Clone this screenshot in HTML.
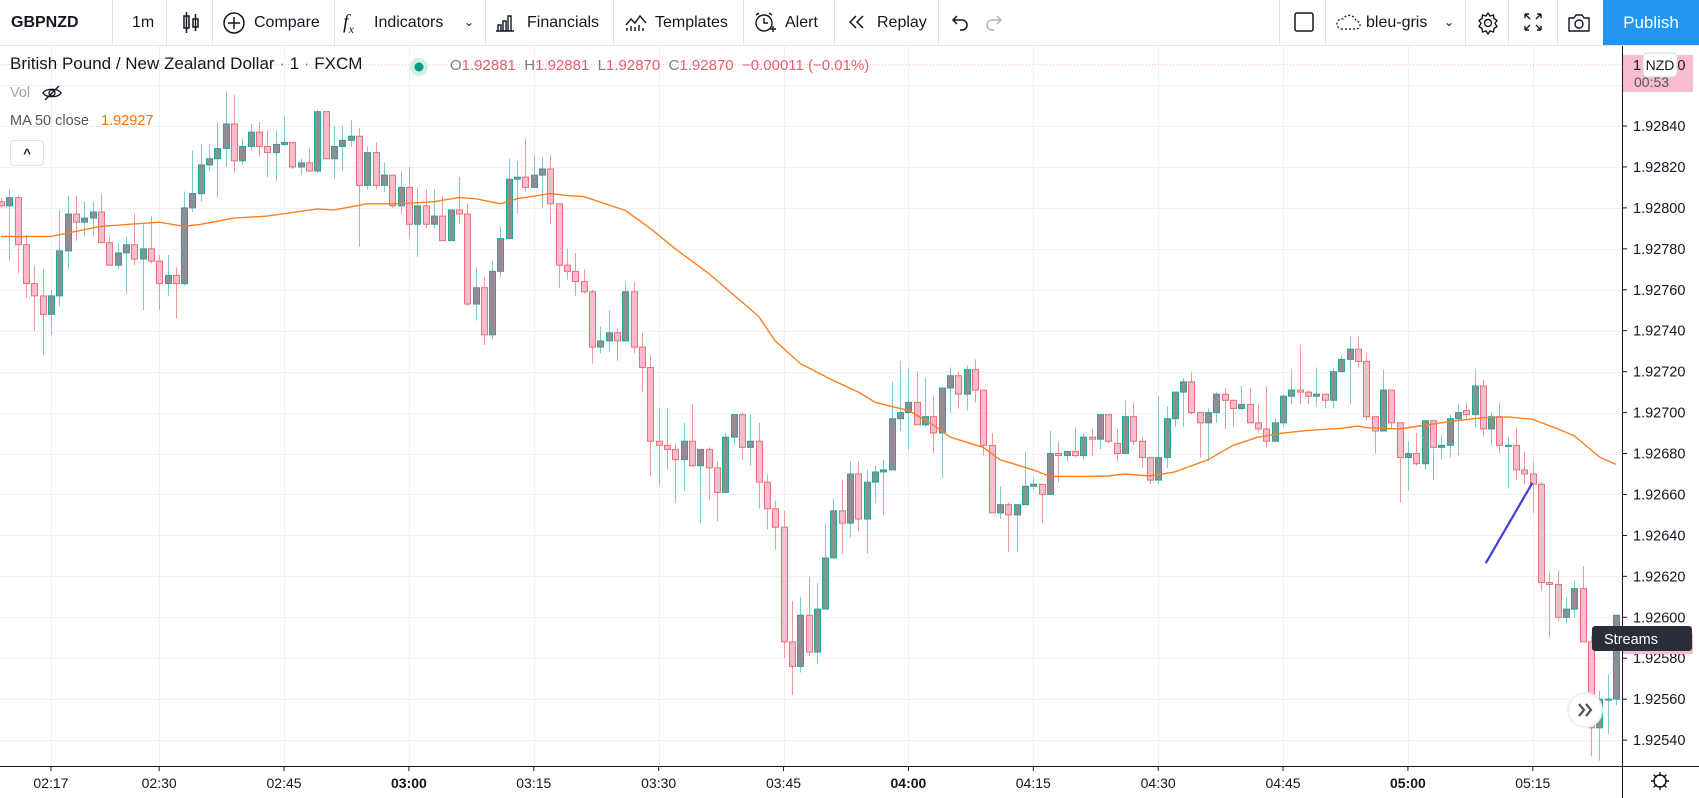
<!DOCTYPE html>
<html><head><meta charset="utf-8">
<style>
html,body{margin:0;padding:0;background:#fff;}
body{width:1699px;height:798px;overflow:hidden;position:relative;font-family:"Liberation Sans",sans-serif;color:#131722;}
#toolbar{position:absolute;left:0;top:0;width:1699px;height:45px;border-bottom:1px solid #e0e3eb;background:#fff;}
.tb{position:absolute;top:0;height:45px;line-height:45px;font-size:16px;color:#131722;white-space:nowrap;}
.sep{position:absolute;top:0;width:1px;height:45px;background:#e0e3eb;}
.ic{position:absolute;top:11px;}
#publish{position:absolute;left:1603px;top:0;width:96px;height:45px;background:#2196f3;color:#fff;font-size:17px;line-height:45px;text-align:center;}
#legend{position:absolute;left:10px;top:54px;font-size:17px;color:#131722;white-space:nowrap;}
.ohlc{position:absolute;top:57px;font-size:15px;white-space:nowrap;color:#787b86;}
.red{color:#e0606a;}
#chart{position:absolute;left:0;top:0;}
</style></head>
<body>
<div id="toolbar">
  <div class="tb" style="left:11px;font-weight:bold;">GBPNZD</div>
  <div class="sep" style="left:112px"></div>
  <div class="tb" style="left:132px">1m</div>
  <div class="sep" style="left:166px"></div>
  <svg class="ic" style="left:181px" width="20" height="24"><rect x="3" y="5" width="5" height="12" fill="none" stroke="#131722" stroke-width="1.5"/><line x1="5.5" y1="1" x2="5.5" y2="22" stroke="#131722" stroke-width="1.5"/><rect x="12" y="8" width="5" height="8" fill="none" stroke="#131722" stroke-width="1.5"/><line x1="14.5" y1="3" x2="14.5" y2="20" stroke="#131722" stroke-width="1.5"/></svg>
  <div class="sep" style="left:212px"></div>
  <svg class="ic" style="left:222px" width="24" height="24"><circle cx="12" cy="12" r="10" fill="none" stroke="#131722" stroke-width="1.5"/><line x1="12" y1="6" x2="12" y2="18" stroke="#131722" stroke-width="1.5"/><line x1="6" y1="12" x2="18" y2="12" stroke="#131722" stroke-width="1.5"/></svg>
  <div class="tb" style="left:254px">Compare</div>
  <div class="sep" style="left:334px"></div>
  <div class="tb" style="left:343px;font-style:italic;font-family:'Liberation Serif',serif;font-size:20px">f<sub style="font-size:12px">x</sub></div>
  <div class="tb" style="left:374px">Indicators</div>
  <div class="tb" style="left:464px;font-size:12px">&#8964;</div>
  <div class="sep" style="left:485px"></div>
  <svg class="ic" style="left:494px" width="22" height="22"><path d="M2 20h18M4 20v-6h3v6M9 20v-10h3v10M14 20v-15h3v15" fill="none" stroke="#131722" stroke-width="1.4"/></svg>
  <div class="tb" style="left:527px">Financials</div>
  <div class="sep" style="left:613px"></div>
  <svg class="ic" style="left:624px" width="24" height="22"><path d="M2 14l5-6 4 4 5-7 6 7" fill="none" stroke="#131722" stroke-width="1.4"/><path d="M3 20v-3M7 20v-5M11 20v-4M15 20v-6M19 20v-3" stroke="#131722" stroke-width="1.4"/></svg>
  <div class="tb" style="left:655px">Templates</div>
  <div class="sep" style="left:743px"></div>
  <svg class="ic" style="left:753px" width="24" height="24"><circle cx="11" cy="12" r="8" fill="none" stroke="#131722" stroke-width="1.4"/><path d="M11 7v5h4M3 4l3-2M19 4l-3-2M17 18h6M20 15v6" fill="none" stroke="#131722" stroke-width="1.4"/></svg>
  <div class="tb" style="left:785px">Alert</div>
  <div class="sep" style="left:834px"></div>
  <svg class="ic" style="left:846px" width="22" height="22"><path d="M10 5l-6 6 6 6M17 5l-6 6 6 6" fill="none" stroke="#131722" stroke-width="1.5"/></svg>
  <div class="tb" style="left:877px">Replay</div>
  <div class="sep" style="left:938px"></div>
  <svg class="ic" style="left:950px" width="22" height="22"><path d="M7 5L3 9l4 4M3 9h9a5 5 0 0 1 0 10h-2" fill="none" stroke="#131722" stroke-width="1.5"/></svg>
  <svg class="ic" style="left:982px" width="22" height="22"><path d="M15 5l4 4-4 4M19 9h-9a5 5 0 0 0 0 10h2" fill="none" stroke="#b2b5be" stroke-width="1.5"/></svg>
  <div class="sep" style="left:1279px"></div>
  <svg class="ic" style="left:1293px" width="22" height="22"><rect x="2" y="2" width="18" height="18" rx="2" fill="none" stroke="#131722" stroke-width="1.5"/></svg>
  <div class="sep" style="left:1325px"></div>
  <svg class="ic" style="left:1334px" width="28" height="22"><path d="M7 18h15a4 4 0 0 0 0-8 7 7 0 0 0-13-2 5 5 0 0 0-2 10z" fill="none" stroke="#131722" stroke-width="1.3" stroke-dasharray="2 2"/></svg>
  <div class="tb" style="left:1366px">bleu-gris</div>
  <div class="tb" style="left:1444px;font-size:12px">&#8964;</div>
  <div class="sep" style="left:1465px"></div>
  <svg class="ic" style="left:1476px" width="24" height="24"><circle cx="12" cy="12" r="3.5" fill="none" stroke="#131722" stroke-width="1.4"/><path d="M12 2l2 3 3.5-1 .5 3.5 3 2-2 3 2 3-3 2-.5 3.5-3.5-1-2 3-2-3-3.5 1-.5-3.5-3-2 2-3-2-3 3-2 .5-3.5 3.5 1z" fill="none" stroke="#131722" stroke-width="1.4"/></svg>
  <div class="sep" style="left:1508px"></div>
  <svg class="ic" style="left:1522px" width="22" height="22"><path d="M3 3l5 5M3 3v4M3 3h4M19 3l-5 5M19 3v4M19 3h-4M3 19l5-5M3 19v-4M3 19h4M19 19l-5-5M19 19v-4M19 19h-4" fill="none" stroke="#131722" stroke-width="1.4"/></svg>
  <div class="sep" style="left:1557px"></div>
  <svg class="ic" style="left:1566px" width="26" height="24"><path d="M3 7h5l2-3h6l2 3h5v13H3z" fill="none" stroke="#131722" stroke-width="1.4" stroke-linejoin="round"/><circle cx="13" cy="13" r="4" fill="none" stroke="#131722" stroke-width="1.4"/></svg>
  <div id="publish">Publish</div>
</div>

<svg id="chart" width="1699" height="798" style="top:0;left:0"></svg>

<div id="legend">British Pound / New Zealand Dollar <span style="color:#787b86">·</span> 1 <span style="color:#787b86">·</span> FXCM</div>
<svg style="position:absolute;left:409px;top:57px" width="20" height="20"><circle cx="10" cy="10" r="9" fill="#d1ede9"/><circle cx="10" cy="10" r="4.5" fill="#089981"/></svg>
<div class="ohlc" style="left:450px">O<span class="red">1.92881</span>&nbsp; H<span class="red">1.92881</span>&nbsp; L<span class="red">1.92870</span>&nbsp; C<span class="red">1.92870</span>&nbsp; <span class="red">−0.00011 (−0.01%)</span></div>
<div style="position:absolute;left:10px;top:85px;font-size:14.5px;color:#a3a6af">Vol</div>
<svg style="position:absolute;left:41px;top:84px" width="22" height="18"><path d="M2 9c3-5 15-5 18 0-3 5-15 5-18 0z" fill="none" stroke="#131722" stroke-width="1.3"/><circle cx="11" cy="9" r="3" fill="none" stroke="#131722" stroke-width="1.3"/><line x1="4" y1="16" x2="18" y2="2" stroke="#131722" stroke-width="1.3"/></svg>
<div style="position:absolute;left:10px;top:113px;font-size:14.5px;color:#555">MA 50 close&nbsp;&nbsp; <span style="color:#ff6d00">1.92927</span></div>
<div style="position:absolute;left:10px;top:140px;width:32px;height:24px;border:1px solid #e0e3eb;border-radius:4px;background:#fff;text-align:center;font-size:13px;line-height:26px;font-weight:bold">^</div>

<script>
// Prices stored as offsets in 0.00001 above 1.92000
const opens=[803,801,805,782,763,757,748,757,779,797,793,795,798,783,772,778,782,775,780,774,763,767,763,800,807,821,824,829,841,823,830,837,830,827,831,832,820,822,818,847,824,830,833,835,811,827,811,816,801,810,792,801,792,796,784,799,797,753,761,738,769,785,814,815,810,816,819,802,772,769,764,759,732,735,739,735,759,732,722,686,684,682,677,686,674,682,673,661,688,699,683,686,666,653,644,588,576,601,583,604,629,652,646,670,648,666,671,672,697,700,705,694,698,690,712,718,709,721,711,684,651,655,650,655,664,665,660,680,679,681,679,688,687,699,685,680,698,686,678,667,678,697,710,715,700,695,700,709,706,702,704,695,692,686,695,708,711,710,708,709,706,720,726,731,725,698,691,711,695,678,680,675,696,683,684,697,701,699,713,692,698,684,684,672,670,665,617,616,600,604,614,588,546,560,560];
const highs=[805,809,806,787,772,770,760,799,806,806,803,803,807,786,783,786,797,792,796,777,777,771,808,828,831,831,842,857,855,834,841,842,838,838,845,832,824,829,848,847,840,840,843,839,830,832,822,816,818,820,810,809,809,806,799,815,802,771,766,774,791,824,823,834,826,825,826,802,780,778,770,760,742,750,741,764,764,739,728,702,702,685,695,704,682,683,676,690,699,700,699,695,670,657,652,608,610,620,617,646,658,667,676,676,672,674,677,715,725,722,720,717,708,712,722,720,723,726,711,690,664,656,655,681,668,665,691,686,681,693,690,692,699,699,692,706,705,688,678,708,703,710,717,720,700,702,710,712,706,713,712,704,713,697,709,721,733,711,722,709,722,728,737,737,729,698,721,711,695,686,690,696,696,689,699,704,705,721,716,700,705,688,693,681,676,666,622,623,610,618,625,591,564,572,601];
const lows=[800,774,768,756,740,728,738,752,770,784,786,786,783,772,770,758,772,750,773,750,757,746,762,798,803,818,805,820,817,821,828,825,815,813,830,819,816,818,817,824,814,818,830,781,809,809,808,800,797,785,776,790,790,784,784,792,752,745,733,736,766,785,797,808,810,800,792,761,765,757,758,724,729,730,725,735,729,710,669,664,672,656,662,674,646,657,647,661,684,677,674,653,643,633,580,562,573,581,577,604,629,631,639,642,631,656,650,672,691,682,694,693,680,668,700,702,701,705,679,651,648,632,632,655,662,646,660,666,676,678,677,679,682,685,676,680,684,673,665,665,673,693,693,699,678,676,695,692,693,701,695,690,683,686,693,704,704,704,703,702,702,720,704,722,696,680,691,692,656,662,674,672,667,677,678,679,697,693,688,684,680,663,667,665,651,613,590,598,597,600,588,532,530,543,557];
const closes=[801,805,782,763,757,748,757,779,797,793,795,798,783,772,778,782,775,780,774,763,767,763,800,807,821,824,829,841,823,830,837,830,827,831,832,820,822,818,847,824,830,833,835,811,827,811,816,801,810,792,801,792,796,784,799,797,753,761,738,769,785,814,815,810,816,819,802,772,769,764,759,732,735,739,735,759,732,722,686,684,682,677,686,674,682,673,661,688,699,683,686,666,653,644,588,576,601,583,604,629,652,646,670,648,666,671,672,697,700,705,694,698,690,712,718,709,721,711,684,651,655,650,655,664,665,660,680,679,681,679,688,687,699,686,680,698,686,678,667,678,697,710,715,700,695,700,709,706,702,704,695,692,686,695,708,711,710,708,709,706,720,726,731,725,698,691,711,695,678,680,675,696,683,684,697,700,699,713,692,698,684,684,672,670,665,617,616,600,604,614,588,546,560,560,601];
// MA 50 readings: bar index and value
const maBars=[0,6,12,19,22,24,28,32,38,40,44,48,52,55,57,60,62,66,68,70,75,78,81,85,88,91,93,96,100,103,105,109,112,114,118,120,124,126,130,133,135,138,141,143,145,148,151,154,157,161,163,164,168,174,178,181,184,187,189,192,194];
const maValues=[786,786,791,793,791,792,795,796,799.5,799,802,802,803,805,804.5,802,804.5,807,806,805.5,798.7,790,780,768,757.5,747,735,724,715.6,710,705,701,694,688,683,677,672,668.8,668.8,669,670,669,671,674,677,684,688,690,691.3,692.3,693.4,692.6,692,695.6,697.5,697.9,696.7,692,688.6,678.3,674.7];
const priceTicks=[540,560,580,600,620,640,660,680,700,720,740,760,780,800,820,840,860];
const timeLabels=["02:17","02:30","02:45","03:00","03:15","03:30","03:45","04:00","04:15","04:30","04:45","05:00","05:15"];
const timeLabelBars=[6,19,34,49,64,79,94,109,124,139,154,169,184];
const boldLabels=["03:00","04:00","05:00"];
const lastPrice=870;
const drawLine={bar1:178.4,val1:626.8,bar2:183.9,val2:665.3};

const NS="http://www.w3.org/2000/svg";
const svg=document.getElementById('chart');
const PLOT_R=1622, PLOT_T=46, PLOT_B=766;
function xOf(i){return 1+i*8.325;}
function yOf(v){return 126+(840-v)*2.047;}
function mk(tag,attrs,parent){const e=document.createElementNS(NS,tag);for(const k in attrs)e.setAttribute(k,attrs[k]);(parent||svg).appendChild(e);return e;}

const clip=mk('clipPath',{id:'plotclip'});mk('rect',{x:0,y:PLOT_T,width:PLOT_R,height:PLOT_B-PLOT_T},clip);
const grid=mk('g',{});


priceTicks.forEach(v=>{const y=Math.round(yOf(v))+0.5;const l=mk('line',{x1:0,x2:PLOT_R,y1:y,y2:y,stroke:'#eef1f6','stroke-width':1},grid);
 
 });
timeLabelBars.forEach(b=>{const x=Math.round(xOf(b))+0.5;const l=mk('line',{x1:x,x2:x,y1:PLOT_T,y2:PLOT_B,stroke:'#eef1f6','stroke-width':1},grid);
 
 });

const plot=mk('g',{'clip-path':'url(#plotclip)'});


const lp=mk('line',{x1:0,x2:PLOT_R,y1:yOf(lastPrice),y2:yOf(lastPrice),stroke:'#f8bbd0','stroke-width':1,'stroke-dasharray':'1 2'},plot);



for(let i=0;i<closes.length;i++){
  const up=closes[i]>=opens[i];
  const cx=Math.round(xOf(i))+0.5;
  const g=mk('g',{},plot);
  
  
  mk('line',{x1:cx,x2:cx,y1:yOf(highs[i]),y2:yOf(lows[i]),stroke:up?'#80cbc4':'#ef9a9a','stroke-width':1},g);
  const top=yOf(Math.max(opens[i],closes[i])), bot=yOf(Math.min(opens[i],closes[i]));
  mk('rect',{x:cx-3,y:top,width:6,height:Math.max(1,bot-top),fill:up?'#8e8e93':'#f8bbd0',stroke:up?'#26a69a':'#e57373','stroke-width':1},g);
}
let d='';maBars.forEach((b,k)=>{d+=(k?'L':'M')+xOf(b).toFixed(1)+' '+yOf(maValues[k]).toFixed(1);});
const ma=mk('path',{d:d,fill:'none',stroke:'#ff7f1f','stroke-width':1.4,'stroke-linejoin':'round'},plot);


const tl=mk('line',{x1:xOf(drawLine.bar1),y1:yOf(drawLine.val1),x2:xOf(drawLine.bar2),y2:yOf(drawLine.val2),stroke:'#3f3fd4','stroke-width':2.2,'stroke-linecap':'round'},plot);



const ax=mk('line',{x1:PLOT_R+0.5,x2:PLOT_R+0.5,y1:PLOT_T,y2:798,stroke:'#131722','stroke-width':1});


const tx=mk('line',{x1:0,x2:1699,y1:PLOT_B+0.5,y2:PLOT_B+0.5,stroke:'#131722','stroke-width':1});


priceTicks.forEach(v=>{
  if(v===860)return;
  const y=yOf(v);
  mk('line',{x1:PLOT_R,x2:PLOT_R+5,y1:y,y2:y,stroke:'#131722','stroke-width':1});
  const t=mk('text',{x:1633,y:y+5,'font-size':14.5,fill:'#131722','font-family':'Liberation Sans, sans-serif'});
  t.textContent=(1.92+v/100000).toFixed(5);
  
  
});
timeLabels.forEach((s,k)=>{
  const x=xOf(timeLabelBars[k]);
  mk('line',{x1:x,x2:x,y1:PLOT_B,y2:PLOT_B+5,stroke:'#131722','stroke-width':1});
  const t=mk('text',{x:x,y:788,'font-size':14,'text-anchor':'middle',fill:'#131722','font-weight':boldLabels.includes(s)?'bold':'normal','font-family':'Liberation Sans, sans-serif'});
  t.textContent=s;
  
  
});
const lpl=mk('g',{});


mk('rect',{x:PLOT_R+1,y:55,width:70,height:37,fill:'#f8bbd0'},lpl);
const t1=mk('text',{x:1633,y:70,'font-size':14.5,fill:'#131722'},lpl);t1.textContent='1.92870';
const t2=mk('text',{x:1634,y:87,'font-size':14,fill:'#555'},lpl);t2.textContent='00:53';
mk('rect',{x:1643,y:53,width:34,height:24,rx:4,fill:'#fff',stroke:'#d1d4dc'},lpl);
const t3=mk('text',{x:1660,y:70,'font-size':14,fill:'#131722','text-anchor':'middle'},lpl);t3.textContent='NZD';
mk('rect',{x:PLOT_R+1,y:633,width:70,height:21,fill:'#f8bbd0'});
const st=mk('g',{});


mk('rect',{x:1592,y:626,width:100,height:25,rx:3,fill:'#2a2e39'},st);
const t4=mk('text',{x:1604,y:644,'font-size':14.5,fill:'#fff'},st);t4.textContent='Streams';
const sb=mk('g',{});


mk('circle',{cx:1585,cy:710,r:17,fill:'#fff',stroke:'#eceef2','stroke-width':2},sb);
mk('path',{d:'M1579 704l5 6-5 6M1586 704l5 6-5 6',fill:'none',stroke:'#50535e','stroke-width':2.2},sb);
const ge=mk('g',{});


[0,45,90,135].forEach(a=>{const r=a*Math.PI/180;mk('line',{x1:1660-9*Math.cos(r),y1:781-9*Math.sin(r),x2:1660+9*Math.cos(r),y2:781+9*Math.sin(r),stroke:'#131722','stroke-width':1.4},ge);});
mk('circle',{cx:1660,cy:781,r:5,fill:'#fff'},ge);
mk('circle',{cx:1660,cy:781,r:6,fill:'none',stroke:'#131722','stroke-width':1.4},ge);
</script>
</body></html>
